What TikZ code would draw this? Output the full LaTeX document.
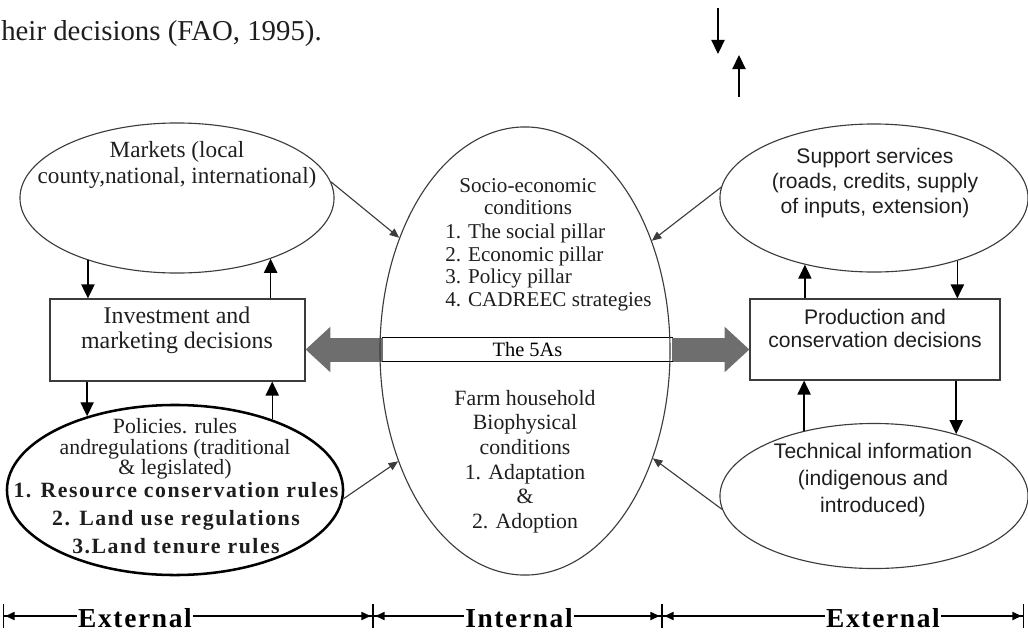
\documentclass[tikz,border=0pt]{standalone}
\usepackage{fontspec}
\setmainfont{Liberation Serif}
\setsansfont{Liberation Sans}
\usetikzlibrary{arrows.meta,shapes.geometric,backgrounds}
\definecolor{ink}{HTML}{1E1E1E}
\definecolor{edge}{HTML}{3C3C3C}
\definecolor{band}{HTML}{6E6E6E}
\newcommand{\fs}[2]{\fontsize{#1}{#2}\selectfont}
\tikzset{
  oval/.style  ={ellipse, draw=edge, line width=.8pt, inner sep=0pt},
  ovalb/.style ={ellipse, draw=black, line width=1.8pt, inner sep=0pt},
  box/.style   ={rectangle, draw=edge, line width=.8pt, inner sep=0pt},
  txt/.style   ={align=center, inner sep=0pt, text=ink},
  vln/.style   ={draw=black, line width=1pt, -{Triangle[length=3.5mm,width=3.3mm]}},
  dln/.style   ={draw=edge, line width=.8pt, -{Triangle[length=2.4mm,width=2mm]}},
  fat/.style   ={draw=band, line width=6mm, {Triangle[length=6.2mm,width=11mm]}-{Triangle[length=6.2mm,width=11mm]}},
  dimln/.style ={draw=black, line width=.8pt, {Bar[width=6mm]Latex[length=2.6mm,width=2.2mm]}-{Latex[length=2.6mm,width=2.2mm]Bar[width=6mm]}},
  side/.style  ={font={\fs{19.5}{22}\bfseries\addfontfeatures{LetterSpace=6}}, fill=white, inner xsep=1pt, inner ysep=0pt, anchor=base},
}

\begin{document}
\begin{tikzpicture}[x=0.025cm,y=-0.025cm]
  \useasboundingbox (0,0) rectangle (1028,632);
  % page text and the arrows above the figure
  \node[txt,anchor=base west,font=\fs{20.5}{24}] (prev) at (1,40) {heir decisions (FAO, 1995).};
  \coordinate (in1) at (718,8);  \coordinate (in1e) at (718,54);
  \coordinate (out1) at (739,97); \coordinate (out1e) at (739,55);
  \draw[vln] (in1) -- (in1e);
  \draw[vln] (out1) -- (out1e);

  % external, left
  \node[oval,minimum width=7.85cm,minimum height=3.75cm] (mkt) at (177,198) {};
  \node[txt,font=\fs{16.5}{18.5}] (mkttx) at (177,165) {Markets (local\\county,national, international)};
  \node[box,minimum width=6.375cm,minimum height=2.05cm] (inv) at (177.5,340) {};
  \node[txt,font=\fs{17}{17.8}] (invtx) at (177,330) {Investment and\\marketing decisions};
  \node[ovalb,minimum width=8.4cm,minimum height=4.25cm] (pol) at (175,490) {};
  \node[txt,font=\fs{15.5}{14.5}] (poltx) at (175,449) {Policies. rules\\andregulations (traditional\\\& legislated)};
  \node[txt,font={\fs{15.5}{20}\bfseries\addfontfeatures{LetterSpace=7}}] (polrl) at (176,518)
    {1. Resource conservation rules\\2. Land use regulations\\3.Land tenure rules};

  % internal
  \node[box,draw=none,fill=white,minimum width=7.225cm,minimum height=.575cm,font=\fs{14.5}{16}] (fivea) at (527.5,349.5) {The 5As};
  \draw[black,line width=.8pt] (fivea.north west) -- (fivea.north east) (fivea.south west) -- (fivea.south east);
  \node[oval,minimum width=7.25cm,minimum height=11.2cm] (soc) at (525,351) {};
  \node[txt,font=\fs{15}{16}] (soctx) at (528,196.5) {Socio-economic\\conditions};
  \node[txt,align=left,anchor=west,font=\fs{15}{16}] (socls) at (445,267.5)
    {1. The social pillar\\2. Economic pillar\\3. Policy pillar\\4. CADREEC strategies};
  \node[txt,font=\fs{15.5}{17.5}] (farmtx) at (525,461.5)
    {Farm household\\Biophysical\\conditions\\1. Adaptation\\\&\\2. Adoption};

  % external, right
  \node[oval,minimum width=7.7cm,minimum height=3.7cm] (sup) at (874,198) {};
  \node[txt,font={\sffamily\fs{15}{17.8}}] (suptx) at (875,183) {Support services\\(roads, credits, supply\\of inputs, extension)};
  \node[box,minimum width=6.25cm,minimum height=2.025cm] (prod) at (875,339.5) {};
  \node[txt,font={\sffamily\fs{15}{16.4}}] (prodtx) at (875,328.5) {Production and\\conservation decisions};
  \node[oval,minimum width=7.7cm,minimum height=3.625cm] (tech) at (874,496) {};
  \node[txt,font={\sffamily\fs{15}{19.2}}] (techtx) at (873,480) {Technical information\\(indigenous and\\introduced)};

  % links
  \draw[vln] (mkt.215) -- (mkt.215 |- inv.north);
  \draw[vln] (mkt.327 |- inv.north) -- (mkt.327);
  \draw[vln] (pol.140 |- inv.south) -- (pol.140);
  \draw[vln] (pol.36) -- (pol.36 |- inv.south);
  \draw[vln] (sup.224 |- prod.north) -- (sup.224);
  \draw[vln] (sup.323) -- (sup.323 |- prod.north);
  \draw[vln] (tech.137) -- (tech.137 |- prod.south);
  \draw[vln] (tech.37 |- prod.south) -- (tech.37);
  \draw[dln] (mkt.6) -- (soc.138);
  \draw[dln] (sup.176) -- (soc.41);
  \draw[dln] (pol.357) -- (soc.221);
  \draw[dln] (tech.185) -- (soc.320);
  \begin{scope}[on background layer]
    \draw[fat] (inv.east |- fivea) -- (prod.west |- fivea);
  \end{scope}

  % scale below
  \coordinate (b0) at (3,616);   \coordinate (b1) at (373,616);
  \coordinate (b2) at (662,616); \coordinate (b3) at (1024,616);
  \draw[dimln] (b0) -- (b1);
  \draw[dimln] (b1) -- (b2);
  \draw[dimln] (b2) -- (b3);
  \node[side] (extl) at (135,627) {External};
  \node[side] (intl) at (519,627) {Internal};
  \node[side] (extr) at (883,627) {External};
\end{tikzpicture}
\end{document}
